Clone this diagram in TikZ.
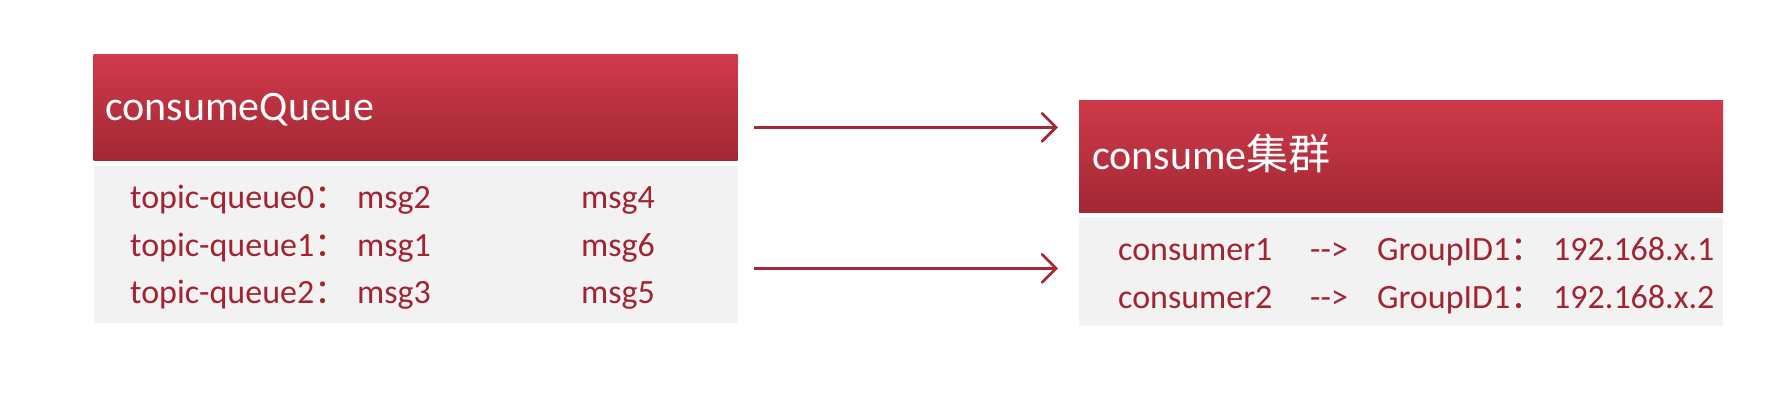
\documentclass[tikz,border=0pt]{standalone}
\usepackage{fontspec}
\setmainfont{Carlito}
\newfontfamily\cjk{Noto Sans CJK SC}
\usetikzlibrary{arrows.meta}
\definecolor{hdrtop}{RGB}{207,58,74}
\definecolor{hdrbot}{RGB}{162,40,52}
\definecolor{bodyfill}{RGB}{242,242,242}
\definecolor{txtred}{RGB}{160,36,50}
\definecolor{arrred}{RGB}{165,40,55}
\tikzset{
  hdrbox/.style={inner sep=0pt, top color=hdrtop, bottom color=hdrbot, draw=none},
  bodybox/.style={inner sep=0pt, fill=bodyfill, draw=none},
  hdrtxt/.style={anchor=base west, inner sep=0pt, text=white, font=\fontsize{42}{50}\selectfont},
  bodytxt/.style={anchor=base west, inner sep=0pt, text=txtred, font=\fontsize{34}{40}\selectfont},
  conn/.style={draw=arrred, line width=2.7pt, -{Straight Barb[length=14pt,width=28pt,line cap=round]}}
}
\newcommand{\fwc}{{\cjk ：}}
\begin{document}
\begin{tikzpicture}[x=1pt,y=-1pt]
\useasboundingbox[fill=white] (0,0) rectangle (1788,418);
% left box
\node[hdrbox, minimum width=644pt, minimum height=106pt] (lhead) at (415.5,107.5) {};
\node[bodybox, minimum width=644pt, minimum height=157pt] (lbody) at (415.5,244.5) {};
\node[hdrtxt] (lhtxt) at (105,120) {consumeQueue};
\node[bodytxt] (q0) at (130,208.3) {topic-queue0\fwc};
\node[bodytxt] (q1) at (130,256.2) {topic-queue1\fwc};
\node[bodytxt] (q2) at (130,303.5) {topic-queue2\fwc};
\node[bodytxt] (m2) at (357,208.3) {msg2};
\node[bodytxt] (m1) at (357,256.2) {msg1};
\node[bodytxt] (m3) at (357,303.5) {msg3};
\node[bodytxt] (m4) at (581,208.3) {msg4};
\node[bodytxt] (m6) at (581,256.2) {msg6};
\node[bodytxt] (m5) at (581,303.5) {msg5};
% right box
\node[hdrbox, minimum width=644pt, minimum height=112pt] (rhead) at (1401,156) {};
\node[bodybox, minimum width=644pt, minimum height=109pt] (rbody) at (1401,271.5) {};
\node[hdrtxt] (rhtxt) at (1092,169) {consume{\cjk 集群}};
\node[bodytxt] (c1) at (1118,260) {consumer1};
\node[bodytxt] (c2) at (1118,308) {consumer2};
\node[bodytxt] (ar1) at (1310,260) {-{}->};
\node[bodytxt] (ar2) at (1310,308) {-{}->};
\node[bodytxt] (g1) at (1377,260) {GroupID1\fwc};
\node[bodytxt] (g2) at (1377,308) {GroupID1\fwc};
\node[bodytxt] (ip1) at (1553,260) {192.168.x.1};
\node[bodytxt] (ip2) at (1553,308) {192.168.x.2};
% connectors
\coordinate (a1s) at (754,127.3);
\coordinate (a1e) at (1058,127.3);
\coordinate (a2s) at (754,268.3);
\coordinate (a2e) at (1058,268.3);
\draw[conn] (a1s) -- (a1e);
\draw[conn] (a2s) -- (a2e);
\end{tikzpicture}
\end{document}
